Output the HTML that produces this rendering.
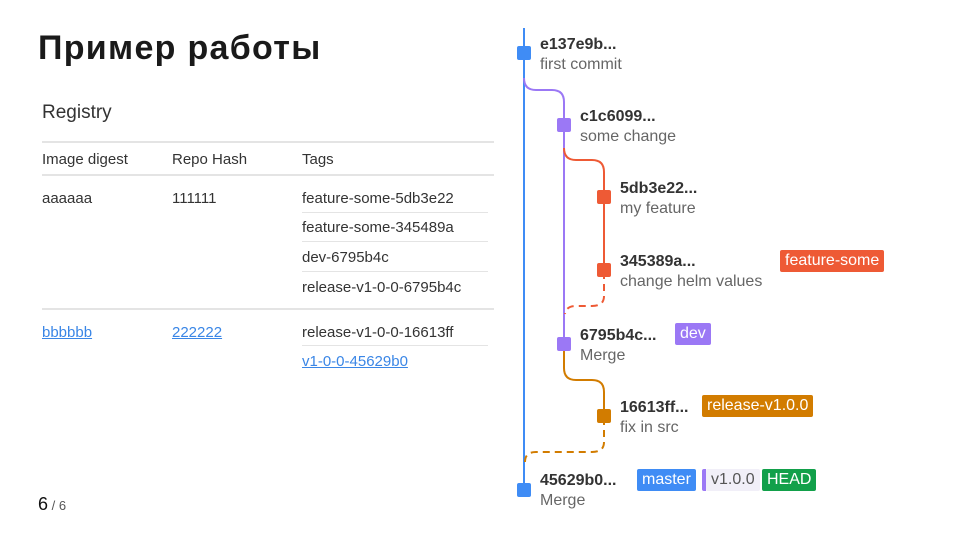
<!DOCTYPE html>
<html><head><meta charset="utf-8"><style>
*{margin:0;padding:0;box-sizing:border-box}
body{width:960px;height:540px;background:#fff;position:relative;overflow:hidden;font-family:"Liberation Sans",sans-serif;color:#333}
.a{position:absolute;white-space:nowrap}
.t{font-size:15px;color:#333}
.ln{position:absolute;height:1px;background:#e4e4e4}
.lk{color:#3a86e6;text-decoration:underline}
.h{font-size:16px;font-weight:bold;color:#333}
.s{font-size:16px;color:#666}
.tag{position:absolute;height:22px;line-height:22px;padding:0 5px;font-size:16px;color:#fff;border-radius:2px}
</style></head><body>
<div class="a" style="left:38px;top:29px;font-size:34px;font-weight:bold;color:#1a1a1a;letter-spacing:1.3px">Пример работы</div>
<div class="a" style="left:42px;top:102px;font-size:19px;color:#333">Registry</div>
<div class="ln" style="left:42px;top:141px;width:452px;height:2px"></div>
<div class="a t" style="left:42px;top:151px">Image digest</div>
<div class="a t" style="left:172px;top:151px">Repo Hash</div>
<div class="a t" style="left:302px;top:151px">Tags</div>
<div class="ln" style="left:42px;top:174px;width:452px;height:2px"></div>
<div class="a t" style="left:42px;top:190px">aaaaaa</div>
<div class="a t" style="left:172px;top:190px">111111</div>
<div class="a t" style="left:302px;top:190px">feature-some-5db3e22</div>
<div class="ln" style="left:302px;top:212px;width:186px"></div>
<div class="a t" style="left:302px;top:219px">feature-some-345489a</div>
<div class="ln" style="left:302px;top:241px;width:186px"></div>
<div class="a t" style="left:302px;top:249px">dev-6795b4c</div>
<div class="ln" style="left:302px;top:271px;width:186px"></div>
<div class="a t" style="left:302px;top:279px">release-v1-0-0-6795b4c</div>
<div class="ln" style="left:42px;top:308px;width:452px;height:2px"></div>
<div class="a t lk" style="left:42px;top:324px">bbbbbb</div>
<div class="a t lk" style="left:172px;top:324px">222222</div>
<div class="a t" style="left:302px;top:324px">release-v1-0-0-16613ff</div>
<div class="ln" style="left:302px;top:345px;width:186px"></div>
<div class="a t lk" style="left:302px;top:353px">v1-0-0-45629b0</div>
<div class="a" style="left:38px;top:494px;font-size:18px;color:#111">6<span style="font-size:13px;color:#555"> / 6</span></div>

<svg class="a" style="left:0;top:0" width="960" height="540">
<g fill="none" stroke-width="2">
<path d="M524 28 V490" stroke="#3f8cf5"/>
<path d="M524 78 Q524 90 536 90 H552 Q564 90 564 102 V345" stroke="#9b78f5"/>
<path d="M564 148 Q564 160 576 160 H592 Q604 160 604 172 V270" stroke="#ee5a35"/>
<path d="M604 272 V296 Q604 306 592 306 H576 Q566 306 565 314" stroke="#ee5a35" stroke-dasharray="7 5"/>
<path d="M564 345 V368 Q564 380 576 380 H592 Q604 380 604 392 V416" stroke="#d27c00"/>
<path d="M604 418 V442 Q604 452 592 452 H536 Q525 452 525 462" stroke="#d27c00" stroke-dasharray="7 5"/>
</g>
<rect x="517" y="46" width="14" height="14" rx="2" fill="#3f8cf5"/>
<rect x="557" y="118" width="14" height="14" rx="2" fill="#9b78f5"/>
<rect x="597" y="190" width="14" height="14" rx="2" fill="#ee5a35"/>
<rect x="597" y="263" width="14" height="14" rx="2" fill="#ee5a35"/>
<rect x="557" y="337" width="14" height="14" rx="2" fill="#9b78f5"/>
<rect x="597" y="409" width="14" height="14" rx="2" fill="#d27c00"/>
<rect x="517" y="483" width="14" height="14" rx="2" fill="#3f8cf5"/>
</svg>

<div class="a h" style="left:540px;top:36px">e137e9b...</div>
<div class="a s" style="left:540px;top:56px">first commit</div>
<div class="a h" style="left:580px;top:108px">c1c6099...</div>
<div class="a s" style="left:580px;top:128px">some change</div>
<div class="a h" style="left:620px;top:180px">5db3e22...</div>
<div class="a s" style="left:620px;top:200px">my feature</div>
<div class="a h" style="left:620px;top:253px">345389a...</div>
<div class="a s" style="left:620px;top:273px">change helm values</div>
<div class="a h" style="left:580px;top:327px">6795b4c...</div>
<div class="a s" style="left:580px;top:347px">Merge</div>
<div class="a h" style="left:620px;top:399px">16613ff...</div>
<div class="a s" style="left:620px;top:419px">fix in src</div>
<div class="a h" style="left:540px;top:472px">45629b0...</div>
<div class="a s" style="left:540px;top:492px">Merge</div>

<div class="tag" style="left:780px;top:250px;background:#ee5a35">feature-some</div>
<div class="tag" style="left:675px;top:323px;background:#9b78f5">dev</div>
<div class="tag" style="left:702px;top:395px;background:#d27c00">release-v1.0.0</div>
<div class="tag" style="left:637px;top:469px;background:#3f8cf5">master</div>
<div class="a" style="left:702px;top:469px;width:4px;height:22px;background:#9b78f5;border-radius:2px 0 0 2px"></div>
<div class="tag" style="left:706px;top:469px;background:#f1eff8;color:#555">v1.0.0</div>
<div class="tag" style="left:762px;top:469px;background:#12a04a">HEAD</div>
</body></html>
